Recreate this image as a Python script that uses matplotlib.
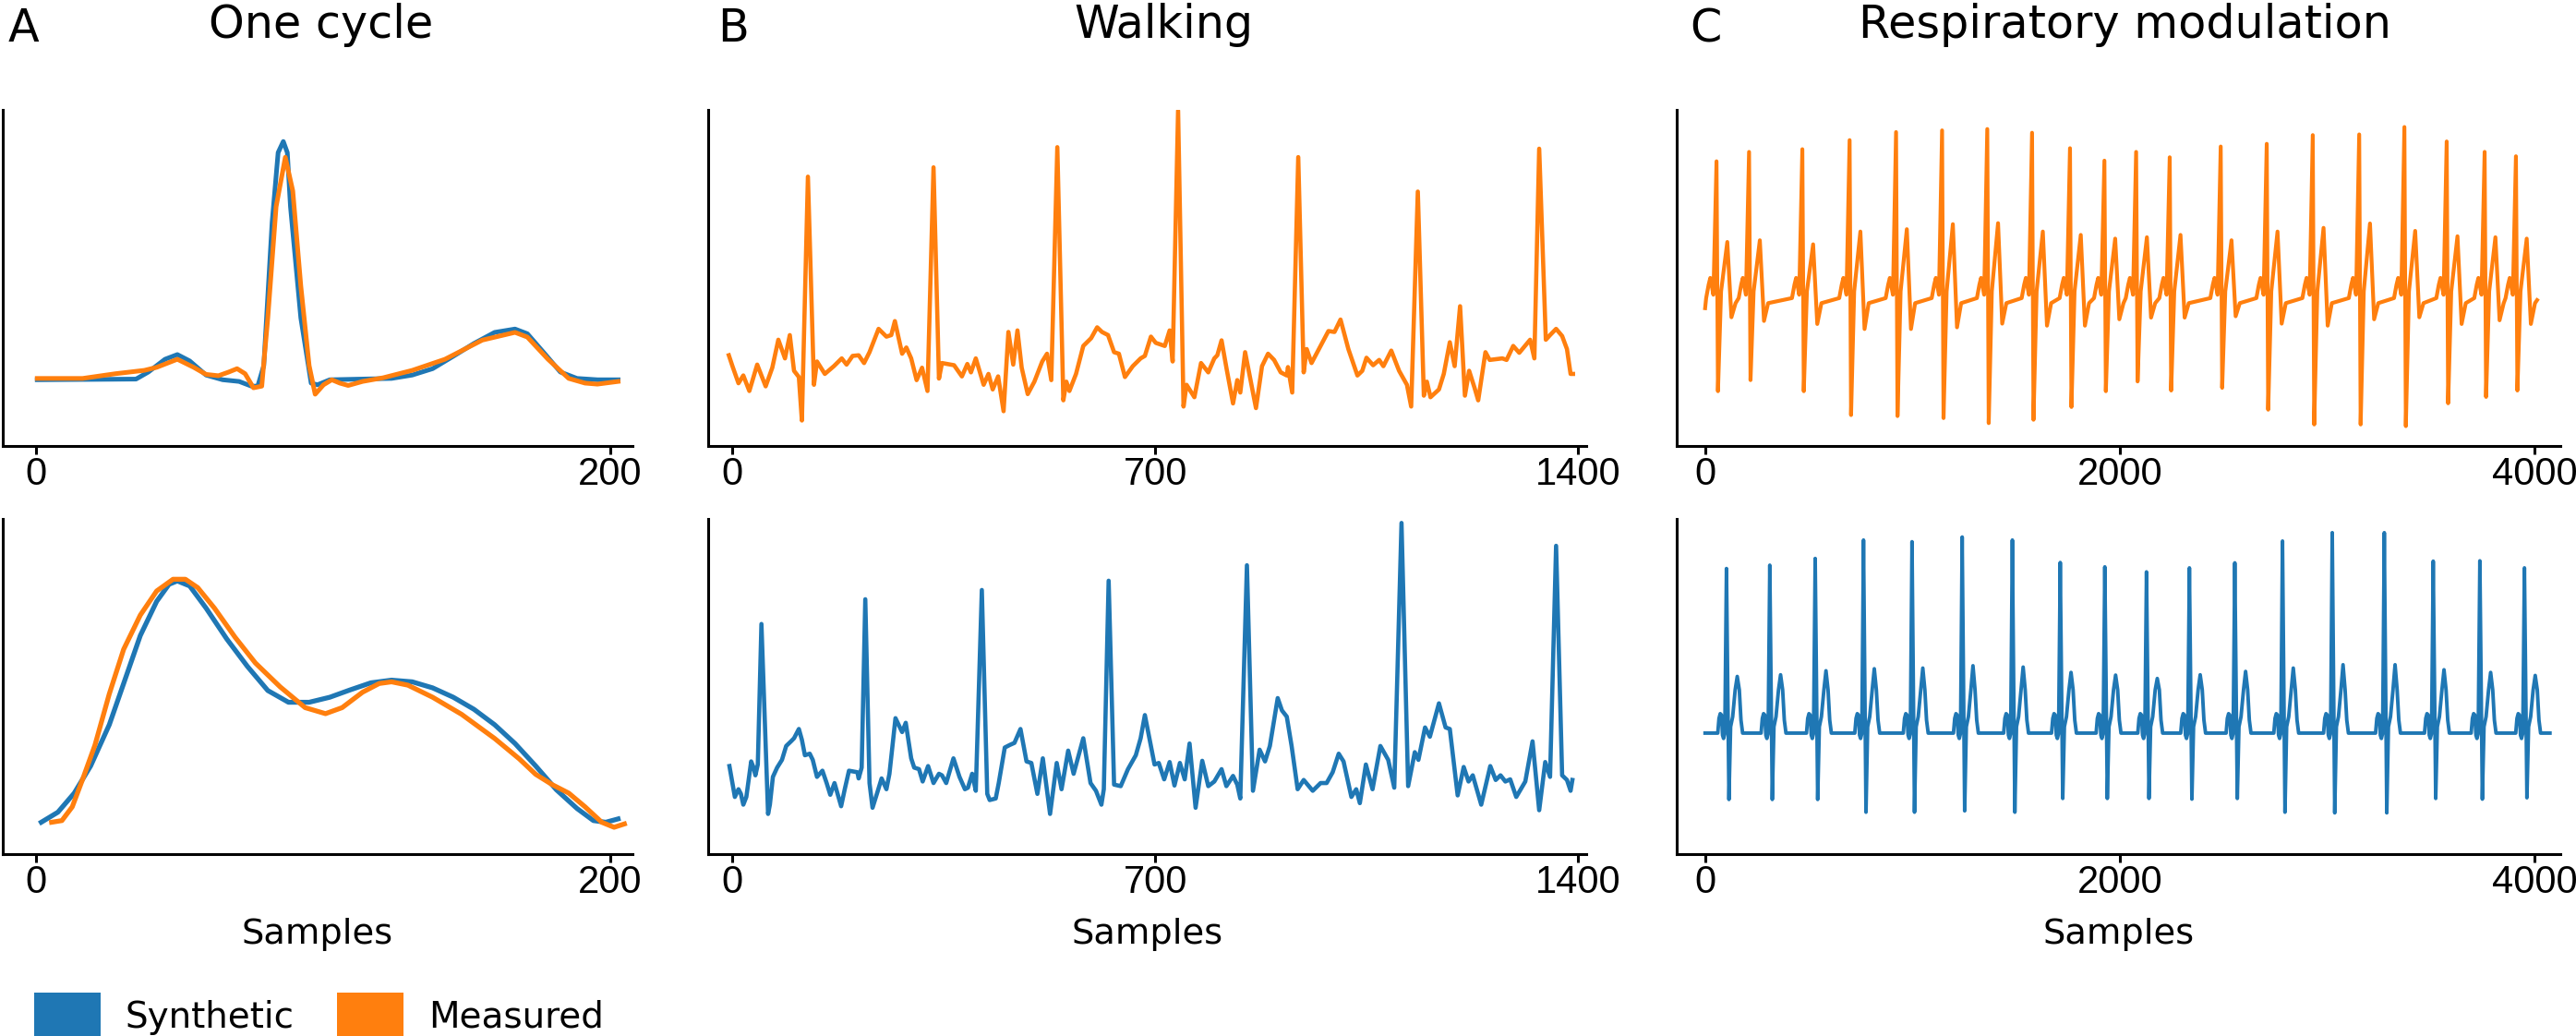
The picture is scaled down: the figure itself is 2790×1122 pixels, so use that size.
import matplotlib.pyplot as plt
from matplotlib.patches import Patch

BLUE = '#1f77b4'
ORANGE = '#ff7f0e'
W, H = 2790, 1122

# ---------------- A: one cycle (values normalised 0..1 of the axis height) ----------------
cyc_top_syn_t = [0.4, 34.8, 39.1, 44.9, 49.2, 53.5, 59.2, 65.0, 70.7, 75.0, 77.2, 79.3, 82.2, 84.3,
                 86.1, 87.5, 88.6, 92.2, 95.8, 98.0, 102.3, 123.8, 131.0, 138.1, 145.3, 152.5,
                 159.7, 166.8, 171.1, 176.9, 182.6, 188.4, 195.5, 202.7]
cyc_top_syn_v = [0.197, 0.199, 0.220, 0.258, 0.272, 0.253, 0.211, 0.197, 0.192, 0.178, 0.178, 0.239,
                 0.665, 0.873, 0.906, 0.873, 0.712, 0.381, 0.187, 0.182, 0.197, 0.201, 0.211, 0.230,
                 0.267, 0.305, 0.338, 0.348, 0.334, 0.277, 0.220, 0.201, 0.197, 0.197]
cyc_top_meas_t = [0.4, 16.2, 27.6, 37.7, 42.0, 49.2, 54.9, 59.2, 63.5, 67.1, 70.0, 72.8, 75.7, 78.6,
                  80.7, 83.6, 86.8, 89.4, 92.2, 95.1, 97.2, 100.1, 103.0, 105.8, 108.7, 113.7,
                  120.9, 131.0, 142.4, 155.4, 166.8, 171.1, 178.3, 185.5, 191.2, 195.5, 202.7]
cyc_top_meas_v = [0.201, 0.201, 0.215, 0.225, 0.234, 0.258, 0.234, 0.213, 0.209, 0.220, 0.230, 0.215,
                  0.173, 0.178, 0.381, 0.712, 0.859, 0.759, 0.476, 0.239, 0.154, 0.182, 0.197, 0.187,
                  0.180, 0.192, 0.203, 0.225, 0.258, 0.315, 0.338, 0.324, 0.258, 0.201, 0.187, 0.184,
                  0.192]
cyc_bot_syn_t = [1.8, 7.6, 13.3, 19.0, 25.5, 30.5, 36.3, 42.0, 46.3, 49.2, 53.5, 59.2, 66.4, 73.6,
                 80.7, 87.9, 95.1, 102.3, 109.4, 116.6, 123.8, 131.0, 138.1, 145.3, 152.5, 159.7,
                 166.8, 174.0, 181.2, 188.4, 194.1, 198.4, 202.7]
cyc_bot_syn_v = [0.095, 0.125, 0.182, 0.263, 0.386, 0.509, 0.652, 0.754, 0.805, 0.815, 0.800, 0.734,
                 0.642, 0.560, 0.488, 0.453, 0.453, 0.468, 0.490, 0.511, 0.519, 0.514, 0.496, 0.468,
                 0.432, 0.386, 0.330, 0.263, 0.192, 0.136, 0.100, 0.095, 0.105]
cyc_bot_meas_t = [5.4, 9.0, 12.6, 16.2, 20.5, 25.5, 30.5, 36.3, 42.0, 47.7, 52.0, 56.3, 62.1, 69.3,
                  76.4, 85.0, 93.7, 100.8, 106.6, 113.7, 119.5, 123.8, 129.5, 138.1, 148.2, 159.7,
                  168.3, 174.0, 179.8, 185.5, 191.2, 197.0, 201.3, 204.9]
cyc_bot_meas_v = [0.095, 0.100, 0.141, 0.223, 0.325, 0.478, 0.611, 0.713, 0.785, 0.820, 0.820, 0.795,
                  0.734, 0.647, 0.570, 0.499, 0.437, 0.419, 0.437, 0.483, 0.509, 0.514, 0.504, 0.468,
                  0.417, 0.345, 0.284, 0.238, 0.207, 0.182, 0.141, 0.095, 0.080, 0.090]

# ---------------- B: walking (arbitrary amplitude units) ----------------
walk_meas_t = [-6, 0, 10, 18, 28, 41, 55, 66, 76, 87, 95, 102, 110, 115, 125, 135, 140, 153, 168, 181,
               189, 199, 209, 218, 227, 242, 255, 263, 269, 281, 288, 296, 305, 314, 323, 333, 342,
               347, 367, 380, 389, 395, 403, 416, 424, 431, 440, 449, 457, 465, 472, 479, 489, 500,
               513, 521, 528, 538, 548, 553, 558, 569, 581, 594, 604, 612, 622, 632, 640, 650, 663,
               676, 683, 693, 701, 716, 724, 729, 738, 747, 752, 765, 776, 788, 798, 803, 810, 818,
               829, 836, 841, 849, 857, 867, 877, 887, 897, 908, 918, 920, 927, 937, 946, 951, 959,
               974, 987, 997, 1007, 1020, 1035, 1043, 1050, 1061, 1071, 1078, 1091, 1104, 1117,
               1124, 1135, 1145, 1150, 1156, 1170, 1178, 1188, 1196, 1205, 1213, 1220, 1229, 1235,
               1247, 1254, 1275, 1282, 1293, 1303, 1321, 1328, 1336, 1347, 1354, 1364, 1374, 1382,
               1388, 1392]
walk_meas_v = [292, 257, 202, 227, 177, 262, 192, 252, 342, 282, 357, 242, 222, 82, 867, 197, 272, 232,
               257, 282, 262, 290, 292, 267, 302, 377, 352, 357, 402, 297, 317, 282, 212, 252, 177,
               897, 217, 267, 260, 224, 264, 237, 282, 197, 232, 182, 224, 112, 367, 262, 372, 252,
               167, 207, 272, 297, 212, 962, 147, 207, 177, 232, 322, 347, 382, 367, 357, 302, 297,
               222, 257, 282, 290, 352, 332, 322, 372, 272, 1080, 127, 197, 157, 267, 237, 282, 292,
               340, 252, 137, 212, 172, 302, 222, 122, 257, 297, 277, 237, 227, 254, 172, 930, 237,
               312, 267, 322, 370, 367, 407, 312, 227, 242, 284, 260, 277, 257, 307, 242, 197, 127,
               819, 162, 207, 157, 182, 232, 334, 257, 450, 162, 242, 187, 147, 302, 277, 282, 277,
               322, 300, 342, 282, 957, 342, 357, 377, 354, 312, 232, 232]
walk_syn_t = [-5, 0, 4, 10, 14, 18, 23, 31, 35, 38, 42, 48, 59, 62, 67, 74, 82, 89, 97, 102, 110, 115,
              120, 128, 133, 140, 149, 156, 162, 169, 180, 186, 193, 207, 209, 214, 220, 227, 232, 240,
              247, 255, 260, 270, 281, 287, 296, 301, 309, 315, 324, 333, 342, 347, 354, 366, 376,
              385, 390, 397, 403, 413, 422, 426, 436, 441, 451, 459, 467, 477, 487, 495, 505, 514,
              526, 537, 545, 556, 565, 572, 581, 593, 602, 611, 615, 623, 632, 643, 655, 668, 676,
              683, 691, 699, 706, 715, 724, 732, 741, 749, 757, 767, 778, 788, 798, 810, 818, 829,
              836, 841, 852, 862, 873, 882, 890, 903, 910, 918, 926, 936, 946, 961, 974, 984, 994,
              1004, 1012, 1025, 1033, 1039, 1049, 1060, 1073, 1086, 1096, 1108, 1119, 1130, 1136,
              1147, 1155, 1170, 1181, 1188, 1201, 1211, 1219, 1226, 1240, 1255, 1264, 1272, 1280,
              1288, 1298, 1313, 1325, 1336, 1346, 1354, 1364, 1374, 1382, 1388, 1391]
walk_syn_v = [285, 230, 185, 210, 195, 160, 185, 300, 280, 255, 290, 745, 130, 160, 250, 280, 305, 350,
              365, 375, 405, 370, 320, 325, 305, 250, 270, 230, 192, 230, 155, 210, 270, 265, 245,
              280, 825, 230, 150, 200, 245, 210, 260, 440, 395, 425, 310, 280, 275, 235, 285, 230,
              260, 255, 230, 310, 250, 210, 215, 260, 205, 855, 195, 175, 180, 230, 345, 353, 360,
              405, 300, 295, 195, 310, 130, 295, 210, 335, 260, 310, 375, 230, 205, 160, 210, 885,
              225, 220, 275, 320, 375, 450, 370, 290, 295, 242, 298, 222, 295, 242, 358, 150, 302,
              220, 235, 275, 220, 253, 225, 180, 935, 205, 338, 300, 350, 505, 465, 445, 350, 210,
              240, 205, 230, 230, 265, 325, 300, 185, 210, 165, 290, 210, 350, 305, 215, 1072, 220,
              330, 305, 410, 380, 488, 410, 405, 190, 282, 235, 255, 160, 285, 240, 255, 235, 242,
              185, 235, 365, 142, 298, 250, 998, 255, 240, 205, 240]

# ---------------- C: respiratory modulation (normalised 0..1) ----------------
resp_meas_r_pos = [55, 212, 469, 697, 921, 1143, 1361, 1577, 1760, 1926, 2079, 2241, 2487, 2709,
                   2931, 3155, 3373, 3577, 3760, 3911]
resp_meas_r = [0.847, 0.875, 0.883, 0.910, 0.934, 0.939, 0.943, 0.932, 0.886, 0.849, 0.875, 0.859,
               0.891, 0.899, 0.925, 0.927, 0.949, 0.906, 0.875, 0.862]
resp_meas_s = [0.163, 0.196, 0.163, 0.092, 0.089, 0.083, 0.068, 0.078, 0.116, 0.163, 0.192, 0.165,
               0.173, 0.108, 0.064, 0.064, 0.059, 0.127, 0.146, 0.165]
resp_meas_t = [0.607, 0.612, 0.600, 0.638, 0.645, 0.660, 0.663, 0.638, 0.628, 0.617, 0.621, 0.628,
               0.612, 0.638, 0.649, 0.662, 0.640, 0.624, 0.621, 0.617]
resp_meas_dip = [0.383, 0.372, 0.363, 0.348, 0.348, 0.353, 0.364, 0.358, 0.358, 0.377, 0.382, 0.382,
                 0.386, 0.364, 0.358, 0.377, 0.383, 0.363, 0.374, 0.363]
# beat shape: sample offset from R and level (letters take the per-beat value)
resp_meas_shape_t = [-50, -38, -30, -15, 0, 7, 22, 52, 72, 92]
resp_meas_shape_v = [0.44, 0.48, 0.50, 0.45, 'r', 's', 0.46, 't', 'dip', 0.425]

resp_syn_r_pos = [103, 312, 531, 764, 998, 1240, 1482, 1713, 1928, 2129, 2336, 2555, 2785, 3025,
                  3276, 3512, 3737, 3952]
resp_syn_r = [0.852, 0.862, 0.882, 0.937, 0.932, 0.946, 0.937, 0.870, 0.857, 0.842, 0.854, 0.869,
              0.934, 0.959, 0.959, 0.874, 0.875, 0.854]
resp_syn_s = [0.163, 0.163, 0.163, 0.125, 0.125, 0.129, 0.125, 0.166, 0.166, 0.166, 0.164, 0.166,
              0.125, 0.123, 0.123, 0.166, 0.164, 0.168]
resp_syn_t = [0.530, 0.535, 0.547, 0.553, 0.555, 0.562, 0.558, 0.542, 0.534, 0.524, 0.535, 0.545,
              0.555, 0.565, 0.565, 0.550, 0.542, 0.533]
resp_syn_shape_t = [-42, -36, -30, -24, -19, -14, -8, 0, 12, 20, 30, 42, 52, 62, 70, 78]
resp_syn_shape_v = [0.361, 0.405, 0.419, 0.415, 0.355, 0.345, 0.36, 'r', 's', 0.38, 0.41, 0.49,
                    't', 0.49, 0.40, 0.361]


def beat_train(r_pos, per_beat, shape_t, shape_v, first, last):
    t, v = [first[0]], [first[1]]
    for i, r in enumerate(r_pos):
        for off, lvl in zip(shape_t, shape_v):
            t.append(r + off)
            v.append(per_beat[lvl][i] if isinstance(lvl, str) else lvl)
    t.append(last[0])
    v.append(last[1])
    return t, v


resp_meas_t_all, resp_meas_v_all = beat_train(
    resp_meas_r_pos, {'r': resp_meas_r, 's': resp_meas_s, 't': resp_meas_t, 'dip': resp_meas_dip},
    resp_meas_shape_t, resp_meas_shape_v, (0, 0.41), (4013, 0.434))
resp_syn_t_all, resp_syn_v_all = beat_train(
    resp_syn_r_pos, {'r': resp_syn_r, 's': resp_syn_s, 't': resp_syn_t},
    resp_syn_shape_t, resp_syn_shape_v, (0, 0.361), (4075, 0.361))

# ---------------- figure ----------------
fig = plt.figure(figsize=(W / 100, H / 100), dpi=100)


def rect(l, t, r, b):
    return [l / W, 1 - b / H, (r - l) / W, (b - t) / H]


cols = [(3, 685), (767, 1718), (1816, 2773)]
rows = [(119, 483), (562, 925)]
xlims = [(-11.6, 207.7), (-40.2, 1413.9), (-137, 4125)]
xticks = [[0, 200], [0, 700, 1400], [0, 2000, 4000]]

axes = {}
for ri, (t, b) in enumerate(rows):
    for ci, (l, r) in enumerate(cols):
        ax = fig.add_axes(rect(l, t, r, b))
        axes[ri, ci] = ax
        ax.set_xlim(*xlims[ci])
        ax.set_xticks(xticks[ci])
        ax.set_yticks([])
        for s in ['top', 'right']:
            ax.spines[s].set_visible(False)
        for s in ['left', 'bottom']:
            ax.spines[s].set_linewidth(2.2)
        ax.tick_params(axis='x', length=6.7, width=2.2, pad=1.5, labelsize=30)
        for lbl in ax.get_xticklabels():
            lbl.set_fontfamily('Liberation Sans')
        if ri == 1:
            ax.set_xlabel('Samples', fontsize=27.6, labelpad=13)

ax = axes[0, 0]
ax.plot(cyc_top_syn_t, cyc_top_syn_v, color=BLUE, lw=3.6)
ax.plot(cyc_top_meas_t, cyc_top_meas_v, color=ORANGE, lw=3.6)
ax.set_ylim(0, 1)
ax = axes[1, 0]
ax.plot(cyc_bot_syn_t, cyc_bot_syn_v, color=BLUE, lw=3.8)
ax.plot(cyc_bot_meas_t, cyc_bot_meas_v, color=ORANGE, lw=3.8)
ax.set_ylim(0, 1)

ax = axes[0, 1]
ax.plot(walk_meas_t, walk_meas_v, color=ORANGE, lw=3.3)
ax.set_ylim(0, 1082)
ax = axes[1, 1]
ax.plot(walk_syn_t, walk_syn_v, color=BLUE, lw=3.3)
ax.set_ylim(0, 1085)

ax = axes[0, 2]
ax.plot(resp_meas_t_all, resp_meas_v_all, color=ORANGE, lw=3.0)
ax.set_ylim(0, 1)
ax = axes[1, 2]
ax.plot(resp_syn_t_all, resp_syn_v_all, color=BLUE, lw=2.8)
ax.set_ylim(0, 1)

# titles and panel letters
for x, title in [(348, 'One cycle'), (1260, 'Walking'), (2301, 'Respiratory modulation')]:
    fig.text(x / W, 1 - 41 / H, title, ha='center', va='baseline', fontsize=35.5)
for x, letter in [(9, 'A'), (777, 'B'), (1830, 'C')]:
    fig.text(x / W, 1 - 45 / H, letter, ha='left', va='baseline', fontsize=35.5)

handles = [Patch(facecolor=BLUE, label='Synthetic'), Patch(facecolor=ORANGE, label='Measured')]
fig.legend(handles=handles, loc='upper left', bbox_to_anchor=(37 / W, 1 - 1075 / H), ncol=2,
           frameon=False, fontsize=28, borderpad=0, borderaxespad=0, handlelength=1.85,
           handleheight=1.6, handletextpad=0.69, columnspacing=1.2)

fig.savefig('out.png', dpi=100)
